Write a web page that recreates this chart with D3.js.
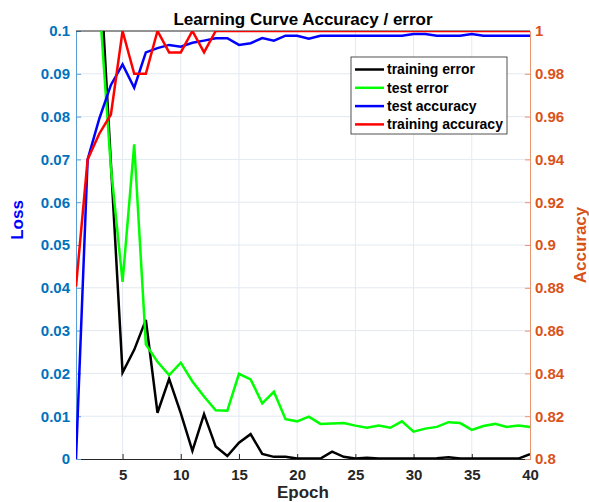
<!DOCTYPE html>
<html>
<head>
<meta charset="utf-8">
<script src="https://cdn.jsdelivr.net/npm/d3@7"></script>
<style>
  body { margin: 0; background: #fff; }
  text { font-family: "Liberation Sans", Arial, sans-serif; font-weight: bold; }
</style>
</head>
<body>
<div id="chart"></div>
<script>
// data
var epochs = d3.range(1, 41)
var trainError = [0.35, 0.2, 0.118, 0.069, 0.0202, 0.0255, 0.0325, 0.0108, 0.0187, 0.0107,
  0.0019, 0.0105, 0.0029, 0.0007, 0.0038, 0.0058, 0.0012, 0.0005, 0.0005, 0.0001,
  0.0001, 0.0001, 0.0017, 0.0005, 0.0001, 0.0003, 0.0001, 0.0001, 0.0001, 0.0001,
  0.0001, 0.0002, 0.0004, 0.0001, 0.0001, 0.0001, 0.0001, 0.0001, 0.0001, 0.0011]
var testError = [0.3, 0.18, 0.107, 0.068, 0.0414, 0.0735, 0.0268, 0.0227, 0.0196, 0.0225,
  0.0181, 0.0146, 0.0114, 0.0113, 0.0199, 0.0186, 0.013, 0.0157, 0.0093, 0.0088,
  0.0099, 0.0082, 0.0083, 0.0084, 0.0078, 0.0073, 0.0078, 0.0073, 0.0088, 0.0064,
  0.0071, 0.0075, 0.0086, 0.0084, 0.0068, 0.0077, 0.0082, 0.0075, 0.0078, 0.0075]
var testAccuracy = [0.80, 0.94, 0.959, 0.9748, 0.9844, 0.9735, 0.990, 0.992, 0.9935, 0.9927,
  0.9945, 0.9955, 0.9966, 0.9966, 0.9935, 0.9943, 0.9967, 0.9955, 0.9978, 0.9978,
  0.9964, 0.9978, 0.9978, 0.9978, 0.9978, 0.9978, 0.9978, 0.9978, 0.9978, 0.9986,
  0.9986, 0.9978, 0.9978, 0.9978, 0.9986, 0.9978, 0.9978, 0.9978, 0.9978, 0.9978]
var trainAccuracy = [0.8805, 0.94, 0.952, 0.961, 1, 0.98, 0.98, 1, 0.99, 0.99,
  1, 0.99, 1, 1, 1, 1, 1, 1, 1, 1,
  1, 1, 1, 1, 1, 1, 1, 1, 1, 1,
  1, 1, 1, 1, 1, 1, 1, 1, 1, 1]

var xTicks = [5, 10, 15, 20, 25, 30, 35, 40]
var lossTicks = d3.range(0, 0.1001, 0.01)
var accTicks = d3.range(0.8, 1.0001, 0.02)

var seriesNames = ['training error', 'test error', 'test accuracy', 'training accuracy']
var seriesColors = ['#000000', '#00ff00', '#0000ff', '#ff0000']

// plot box (window.top is read only, so own names)
var pLeft = 76, pRight = 530, pTop = 31, pBottom = 459
var W = 589, H = 502

var x = d3.scaleLinear().domain([1, 40]).range([pLeft, pRight])
var yLoss = d3.scaleLinear().domain([0, 0.1]).range([pBottom, pTop])
var yAcc = d3.scaleLinear().domain([0.8, 1]).range([pBottom, pTop])

var svg = d3.select('#chart').append('svg')
  .attr('width', W)
  .attr('height', H)

svg.append('defs').append('clipPath').attr('id', 'plotclip')
  .append('rect')
  .attr('x', pLeft).attr('y', pTop)
  .attr('width', pRight - pLeft).attr('height', pBottom - pTop)

// grid
var grid = svg.append('g')
grid.selectAll('.hg').data(lossTicks.slice(1, -1)).enter()
  .append('line')
  .attr('x1', pLeft).attr('x2', pRight)
  .attr('y1', d => yLoss(d)).attr('y2', d => yLoss(d))
  .style('stroke', '#e3e9f0').style('stroke-width', 1)
grid.selectAll('.vg').data(xTicks.slice(0, -1)).enter()
  .append('line')
  .attr('y1', pTop).attr('y2', pBottom)
  .attr('x1', d => x(d)).attr('x2', d => x(d))
  .style('stroke', '#e3e9f0').style('stroke-width', 1)

// axes (ticks point inward like matlab)
var gx = svg.append('g')
  .attr('transform', 'translate(0,' + pBottom + ')')
  .call(d3.axisBottom(x).tickValues(xTicks).tickSize(-5).tickPadding(10).tickFormat(d3.format('d')))
gx.select('.domain').style('stroke', '#262626')
gx.selectAll('line').style('stroke', '#262626')
gx.selectAll('text').style('fill', '#262626').style('font-size', '15px').attr('dy', '0.75em')

var gl = svg.append('g')
  .attr('transform', 'translate(' + pLeft + ',0)')
  .call(d3.axisLeft(yLoss).tickValues(lossTicks).tickSize(-5).tickPadding(6).tickFormat(d => +d.toFixed(2)))
gl.select('.domain').style('stroke', '#5a9fd4')
gl.selectAll('line').style('stroke', '#5a9fd4')
gl.selectAll('text').style('fill', '#0072bd').style('font-size', '15px')

var gr = svg.append('g')
  .attr('transform', 'translate(' + pRight + ',0)')
  .call(d3.axisRight(yAcc).tickValues(accTicks).tickSize(-5).tickPadding(5).tickFormat(d => +d.toFixed(2)))
gr.select('.domain').style('stroke', '#eb9470')
gr.selectAll('line').style('stroke', '#eb9470')
gr.selectAll('text').style('fill', '#d95319').style('font-size', '15px')

// top border
svg.append('line')
  .attr('x1', pLeft).attr('x2', pRight).attr('y1', pTop).attr('y2', pTop)
  .style('stroke', '#262626').style('stroke-width', 1)

// curves
var lossLine = d3.line().x((d, i) => x(epochs[i])).y(d => yLoss(d))
var accLine = d3.line().x((d, i) => x(epochs[i])).y(d => yAcc(d))

var curves = svg.append('g').attr('clip-path', 'url(#plotclip)')
var lines = [
  {vals: trainError, gen: lossLine},
  {vals: testError, gen: lossLine},
  {vals: testAccuracy, gen: accLine},
  {vals: trainAccuracy, gen: accLine}
]
curves.selectAll('path').data(lines).enter()
  .append('path')
  .attr('d', d => d.gen(d.vals))
  .style('fill', 'none')
  .style('stroke', (d, i) => seriesColors[i])
  .style('stroke-width', 2.5)
  .style('stroke-linejoin', 'miter')

// legend
var lg = svg.append('g')
lg.append('rect')
  .attr('x', 351).attr('y', 57)
  .attr('width', 156).attr('height', 77)
  .style('fill', '#fff').style('stroke', '#262626').style('stroke-width', 0.8)
var rows = lg.selectAll('.row').data(seriesNames).enter()
  .append('g')
  .attr('transform', (d, i) => 'translate(0,' + (69.5 + i * 18.3) + ')')
rows.append('line')
  .attr('x1', 355).attr('x2', 384)
  .style('stroke', (d, i) => seriesColors[i]).style('stroke-width', 2.5)
rows.append('text')
  .attr('x', 387).attr('dy', '0.35em')
  .style('font-size', '14px').style('fill', '#000')
  .text(d => d)

// titles
svg.append('text')
  .attr('x', 303).attr('y', 25)
  .attr('text-anchor', 'middle')
  .style('font-size', '17px').style('fill', '#000')
  .text('Learning Curve Accuracy / error')

svg.append('text')
  .attr('x', 303).attr('y', 498)
  .attr('text-anchor', 'middle')
  .style('font-size', '17px').style('fill', '#262626')
  .text('Epoch')

svg.append('text')
  .attr('transform', 'translate(23,220) rotate(-90)')
  .attr('text-anchor', 'middle')
  .style('font-size', '17px').style('fill', '#0000ff')
  .text('Loss')

svg.append('text')
  .attr('transform', 'translate(586,245) rotate(-90)')
  .attr('text-anchor', 'middle')
  .style('font-size', '17px').style('fill', '#d95319')
  .text('Accuracy')
</script>
</body>
</html>
